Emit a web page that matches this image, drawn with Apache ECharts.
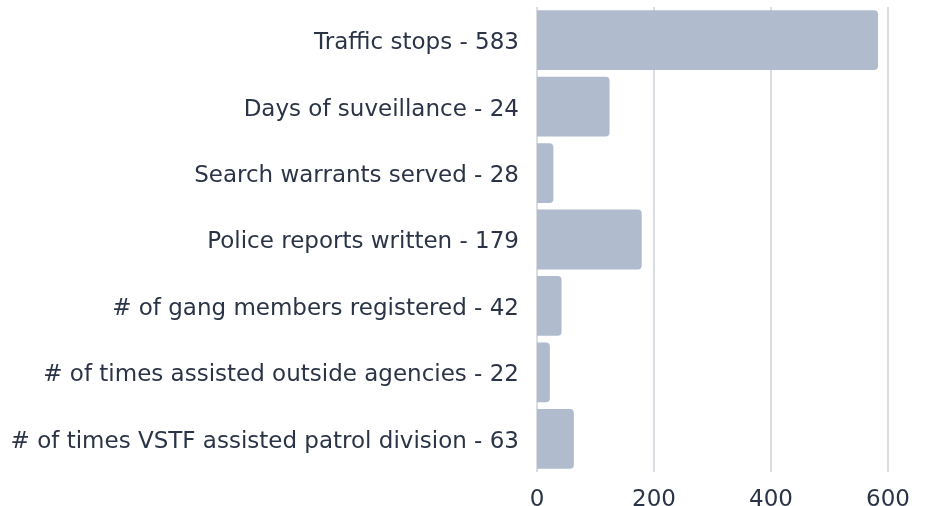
<!DOCTYPE html>
<html>
<head>
<meta charset="utf-8">
<script src="https://cdn.jsdelivr.net/npm/echarts@6/dist/echarts.min.js"></script>
<style>
  html, body { margin: 0; padding: 0; background: #fff; }
  #main { width: 925px; height: 506px; }
</style>
</head>
<body>
<div id="main"></div>
<script>
// categories top to bottom, as labelled in the source
var categories = [
  'Traffic stops - 583',
  'Days of suveillance - 24',
  'Search warrants served - 28',
  'Police reports written - 179',
  '# of gang members registered - 42',
  '# of times assisted outside agencies - 22',
  '# of times VSTF assisted patrol division - 63'
];
// bar lengths as drawn
var values = [583, 124, 28, 179, 42, 22, 63];
var xTicks = [0, 200, 400, 600];

var textColor = '#2b3447';
var chart = echarts.init(document.getElementById('main'));

chart.setOption({
  animation: false,
  grid: { left: 537, right: 37, top: 7, bottom: 34, outerBoundsMode: 'none', containLabel: false },
  xAxis: {
    type: 'value',
    min: 0,
    max: 600,
    interval: 200,
    axisLine: { show: false },
    axisTick: { show: false },
    axisLabel: {
      color: textColor,
      fontSize: 23,
      fontFamily: 'DejaVu Sans',
      margin: 17,
      formatter: function (v) { return xTicks.indexOf(v) >= 0 ? String(v) : ''; }
    },
    splitLine: { lineStyle: { color: '#ced2d9', width: 1.5 } }
  },
  yAxis: {
    type: 'category',
    inverse: true,
    data: categories,
    axisLine: { show: false },
    axisTick: { show: false },
    axisLabel: {
      margin: 18,
      formatter: function (v) { return '{a|' + v + '}'; },
      rich: {
        a: {
          color: textColor,
          fontSize: 23,
          fontFamily: 'DejaVu Sans',
          padding: [6, 0, 0, 0]
        }
      }
    }
  },
  series: [{
    type: 'bar',
    data: values,
    barCategoryGap: '10%',
    itemStyle: { color: '#b0bccd', borderRadius: [0, 4, 4, 0] }
  }]
});
</script>
</body>
</html>
